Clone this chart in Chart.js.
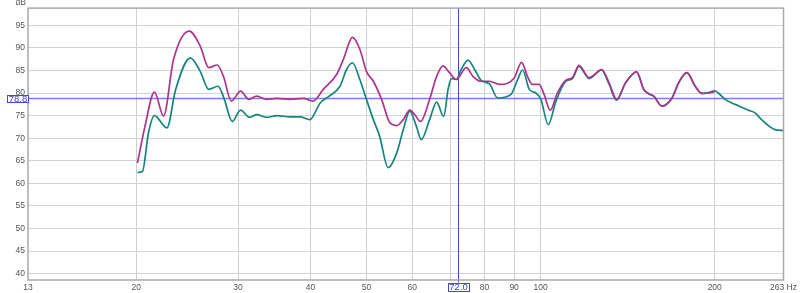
<!DOCTYPE html>
<html>
<head>
<meta charset="utf-8">
<script src="https://cdn.jsdelivr.net/npm/chart.js@4.4.0/dist/chart.umd.min.js"></script>
<style>
  html, body { margin: 0; padding: 0; background: #ffffff; }
  #wrap { width: 800px; height: 293px; position: relative; }
</style>
</head>
<body>
<div id="wrap"><canvas id="c" width="800" height="293"></canvas></div>
<script>
// ---- data ----
const magentaFreq = [20.1, 20.7, 21.5, 22.3, 23.2, 24.7, 25.8, 26.7, 27.6, 28.3, 29.2, 30.3, 31.3, 32.3, 33.6, 35.0, 36.9, 38.9, 40.4, 42.1, 44.4, 45.6, 47.3, 48.7, 50.0, 51.4, 53.1, 54.9, 56.4, 57.9, 59.4, 60.6, 62.0, 64.3, 66.0, 67.8, 69.6, 71.5, 74.4, 76.4, 78.9, 81.6, 84.9, 90.1, 92.7, 94.9, 96.8, 99.4, 101.4, 103.9, 106.9, 110.5, 113.5, 116.5, 121.3, 127.5, 131.3, 135.3, 140.3, 146.5, 150.8, 153.8, 156.9, 162.1, 168.7, 173.3, 179.0, 185.0, 190.1, 195.2, 200.0];
const magentaDb   = [64.5, 72.5, 80.2, 74.9, 87.4, 93.7, 90.4, 85.6, 86.2, 83.7, 78.2, 80.4, 78.6, 79.3, 78.6, 78.8, 78.6, 78.8, 78.2, 80.8, 84.1, 87.4, 92.3, 89.7, 84.8, 82.6, 78.6, 73.4, 72.8, 74.1, 76.2, 75.2, 73.7, 78.6, 83.4, 86.0, 84.5, 83.0, 85.6, 83.7, 82.6, 82.6, 81.9, 83.4, 86.8, 83.7, 81.9, 81.9, 79.7, 76.2, 80.0, 82.8, 83.4, 86.1, 83.4, 85.2, 82.3, 78.6, 82.3, 84.7, 80.8, 79.8, 79.3, 77.1, 78.9, 82.3, 84.5, 81.5, 79.9, 80.0, 80.3];

const tealFreq = [20.1, 20.5, 21.0, 21.5, 22.6, 23.4, 24.8, 25.8, 26.7, 27.7, 28.4, 29.3, 30.3, 31.4, 32.3, 33.6, 35.0, 36.9, 38.4, 39.9, 41.6, 43.0, 45.0, 46.2, 47.3, 48.7, 50.0, 51.4, 52.7, 54.5, 56.4, 57.9, 59.4, 61.0, 62.2, 64.3, 66.1, 68.0, 69.2, 70.1, 71.5, 72.9, 74.9, 76.9, 78.9, 81.6, 84.3, 88.9, 91.3, 93.1, 95.6, 98.1, 100.1, 103.1, 106.3, 110.5, 113.5, 116.5, 121.3, 127.5, 131.3, 135.3, 140.3, 146.5, 150.8, 153.8, 156.9, 162.1, 168.7, 173.3, 179.0, 185.0, 190.1, 195.2, 200.0, 202.9, 208.5, 214.0, 219.7, 228.7, 234.8, 241.0, 247.5, 254.2, 263.0];
const tealDb   = [62.4, 62.6, 71.2, 75.0, 72.3, 80.8, 87.8, 84.8, 80.8, 81.5, 78.6, 73.7, 76.2, 74.6, 75.2, 74.6, 75.0, 74.7, 74.7, 74.1, 77.8, 79.2, 81.5, 85.2, 86.7, 83.0, 78.6, 74.1, 70.4, 63.5, 66.7, 71.9, 76.0, 72.6, 69.7, 74.1, 78.0, 74.8, 80.8, 83.2, 83.0, 85.2, 87.3, 85.2, 82.8, 82.0, 78.9, 79.7, 83.0, 85.1, 80.8, 80.0, 78.6, 73.0, 78.2, 82.6, 83.2, 85.9, 83.2, 85.1, 82.0, 78.4, 82.3, 84.7, 80.8, 79.8, 79.3, 77.1, 78.9, 82.3, 84.5, 81.5, 79.9, 80.1, 80.5, 80.0, 78.6, 77.8, 77.2, 76.2, 75.6, 74.1, 72.8, 71.9, 71.7];

const xTickValues = [13, 20, 30, 40, 50, 60, 70, 80, 90, 100, 200, 263];
const yTickValues = [40, 45, 50, 55, 60, 65, 70, 75, 80, 85, 90, 95];
const cursorFreq = 72.0;
const cursorDb = 78.8;

const toPoints = (xs, ys) => xs.map((x, i) => ({ x: x, y: ys[i] }));

const FONT = { family: 'Liberation Sans, Arial, sans-serif', size: 8.5 };

const overlay = {
  id: 'overlay',
  beforeDatasetsDraw(chart) {
    const { ctx, chartArea: a, scales } = chart;
    const px = scales.x.getPixelForValue(cursorFreq);
    const py = scales.y.getPixelForValue(cursorDb);
    ctx.save();
    ctx.strokeStyle = 'rgba(110,110,240,0.9)';
    ctx.lineWidth = 1.5;
    ctx.beginPath(); ctx.moveTo(a.left, py); ctx.lineTo(a.right, py); ctx.stroke();
    ctx.strokeStyle = 'rgb(70,70,210)';
    ctx.lineWidth = 1;
    ctx.beginPath(); ctx.moveTo(Math.round(px) + 0.5, a.top); ctx.lineTo(Math.round(px) + 0.5, a.bottom + 3); ctx.stroke();
    ctx.restore();
  },
  afterDraw(chart) {
    const { ctx, chartArea: a, scales } = chart;
    const px = scales.x.getPixelForValue(cursorFreq);
    const py = scales.y.getPixelForValue(cursorDb);
    ctx.save();
    // plot border
    ctx.strokeStyle = '#a9a9a9';
    ctx.lineWidth = 1.5;
    ctx.strokeRect(a.left, a.top, a.right - a.left, a.bottom - a.top);
    // dB label
    ctx.fillStyle = '#555';
    ctx.font = FONT.size + 'px ' + FONT.family;
    ctx.textAlign = 'right';
    ctx.textBaseline = 'alphabetic';
    ctx.fillText('dB', a.left - 2, 5);
    // cursor label boxes
    ctx.font = '9.5px ' + FONT.family;
    ctx.textBaseline = 'middle';
    ctx.textAlign = 'center';
    const drawBox = (cx, cy, w, h, txt) => {
      ctx.fillStyle = '#ffffff';
      ctx.fillRect(cx - w / 2, cy - h / 2, w, h);
      ctx.strokeStyle = 'rgb(70,70,220)';
      ctx.lineWidth = 1;
      ctx.strokeRect(Math.round(cx - w / 2) + 0.5, Math.round(cy - h / 2) + 0.5, w, h);
      ctx.fillStyle = 'rgb(60,60,210)';
      ctx.fillText(txt, cx + 0.5, cy + 1);
    };
    drawBox(px, 286.5, 21, 8, cursorFreq.toFixed(1));
    drawBox(17.5, py, 21, 7, cursorDb.toFixed(1));
    ctx.restore();
  }
};

new Chart(document.getElementById('c'), {
  type: 'line',
  data: {
    datasets: [
      {
        label: 'Magenta',
        data: toPoints(magentaFreq, magentaDb),
        borderColor: 'rgb(172,52,142)',
        borderWidth: 1.7,
        pointRadius: 0,
        cubicInterpolationMode: 'monotone',
        fill: false
      },
      {
        label: 'Teal',
        data: toPoints(tealFreq, tealDb),
        borderColor: 'rgb(22,132,126)',
        borderWidth: 1.7,
        pointRadius: 0,
        cubicInterpolationMode: 'monotone',
        fill: false
      }
    ]
  },
  plugins: [overlay],
  options: {
    responsive: false,
    animation: false,
    devicePixelRatio: 1,
    layout: { padding: { left: 0, right: 14, top: 8, bottom: 0 } },
    plugins: { legend: { display: false }, tooltip: { enabled: false } },
    scales: {
      x: {
        type: 'logarithmic',
        min: 13,
        max: 263,
        afterBuildTicks(scale) { scale.ticks = xTickValues.map(v => ({ value: v })); },
        afterFit(scale) { scale.height = 13; },
        border: { display: false },
        grid: {
          drawTicks: false,
          color: ctx => (ctx.tick && (ctx.tick.value === 13 || ctx.tick.value === 263)) ? 'rgba(0,0,0,0)' : '#cfcfcf',
          lineWidth: 1
        },
        ticks: {
          autoSkip: false,
          maxRotation: 0,
          padding: 3,
          color: '#555',
          font: FONT,
          callback: v => v === 70 ? '' : (v === 263 ? '263 Hz' : String(v))
        }
      },
      y: {
        type: 'linear',
        min: 38.6,
        max: 98.8,
        afterBuildTicks(scale) { scale.ticks = yTickValues.map(v => ({ value: v })); },
        afterFit(scale) { scale.width = 28; },
        border: { display: false },
        grid: { drawTicks: false, color: '#d4d4d4', lineWidth: 1 },
        ticks: {
          padding: 3,
          color: '#555',
          font: FONT,
          callback: v => String(v)
        }
      }
    }
  }
});
</script>
</body>
</html>
